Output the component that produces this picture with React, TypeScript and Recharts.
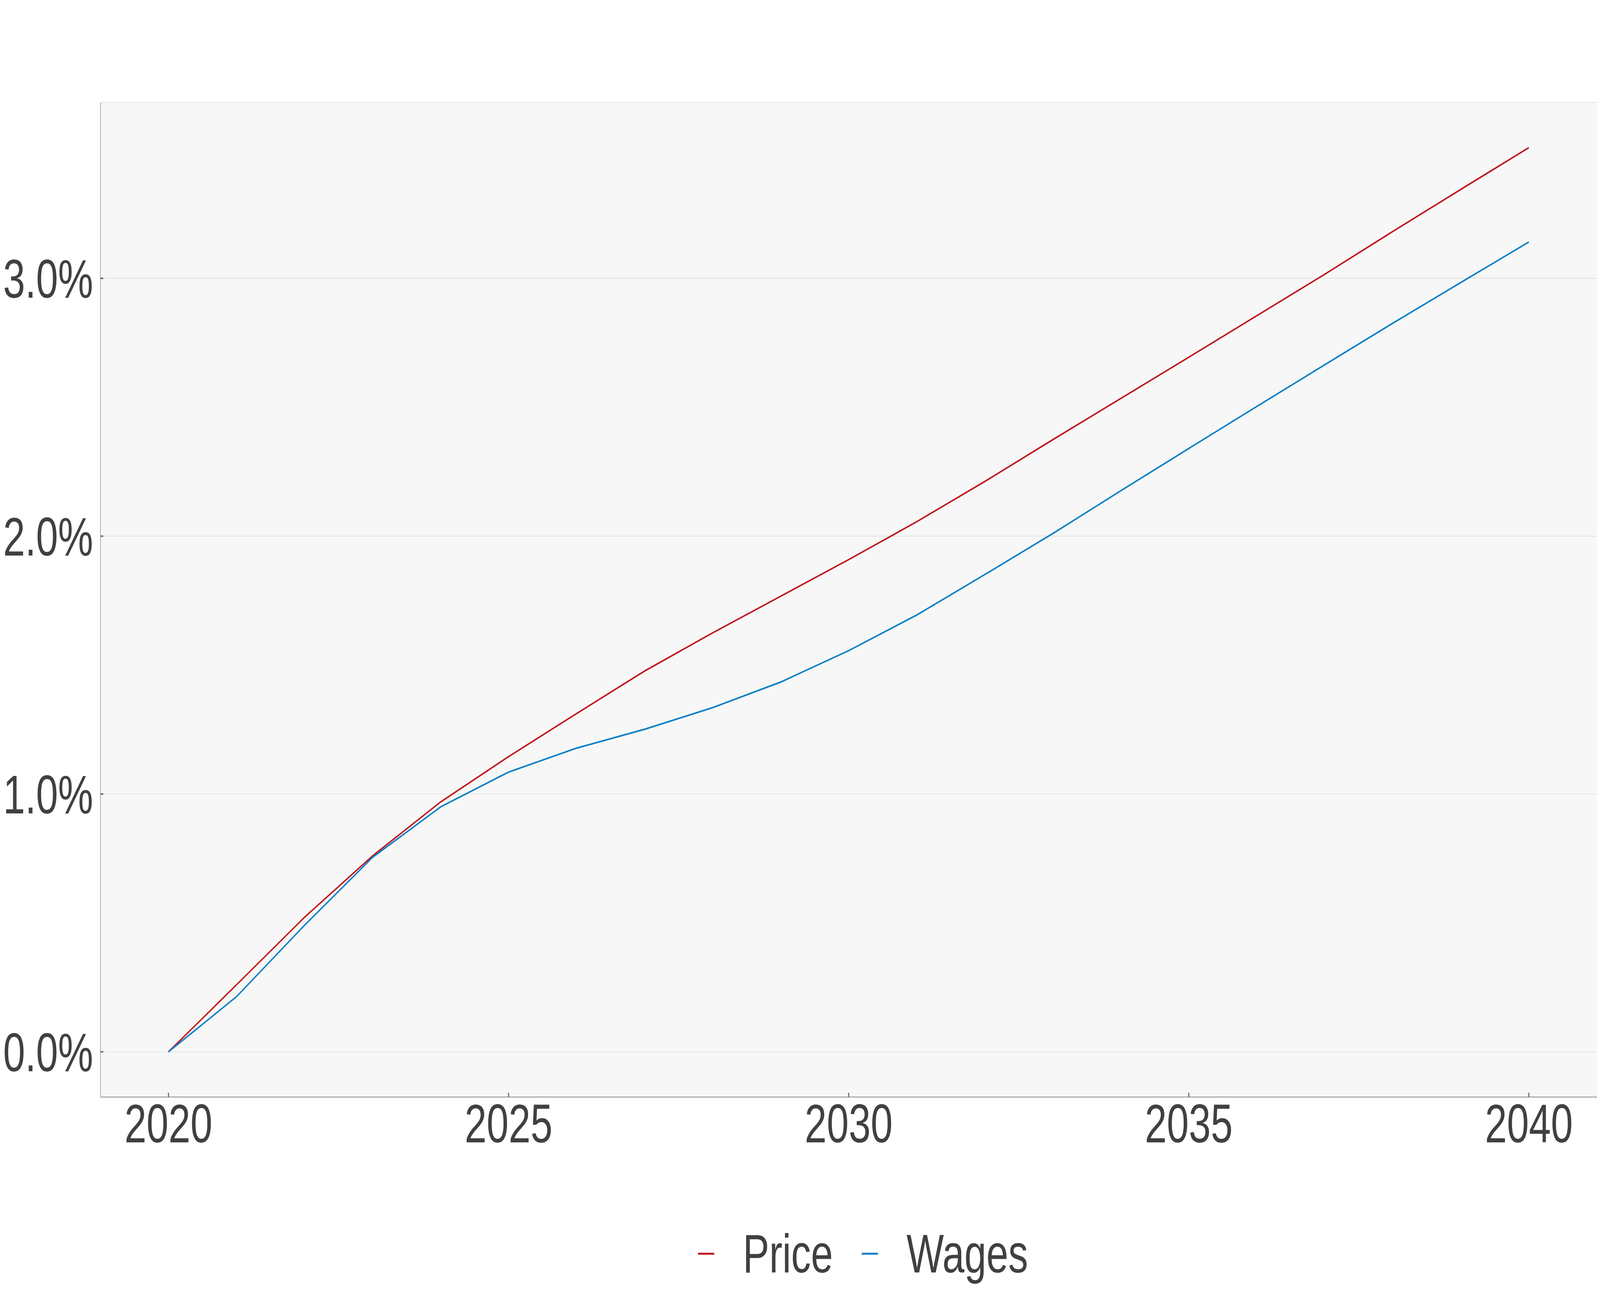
import { CartesianGrid, Legend, Line, LineChart, XAxis, YAxis } from 'recharts';

const years = [
  2020, 2021, 2022, 2023, 2024, 2025, 2026, 2027, 2028, 2029, 2030,
  2031, 2032, 2033, 2034, 2035, 2036, 2037, 2038, 2039, 2040,
];
const price = [
  0, 0.26, 0.522, 0.76, 0.969, 1.145, 1.312, 1.477, 1.625, 1.767, 1.909,
  2.056, 2.212, 2.374, 2.534, 2.694, 2.855, 3.016, 3.182, 3.345, 3.507,
];
const wages = [
  0, 0.214, 0.491, 0.754, 0.95, 1.085, 1.178, 1.251, 1.335, 1.434, 1.556,
  1.694, 1.851, 2.01, 2.176, 2.34, 2.503, 2.665, 2.826, 2.984, 3.141,
];
const xTicks = [2020, 2025, 2030, 2035, 2040];
const yTicks = [0, 1, 2, 3];
const seriesNames = ['Price', 'Wages'];
const seriesColors = ['#c0171c', '#0a80c6'];

const data = years.map((year, i) => ({ year, price: price[i], wages: wages[i] }));

const W = 5669;
const H = 3307;
const FONT = '"Liberation Sans", Arial, Helvetica, sans-serif';
const TEXT = '#404040';

function LegendContent() {
  return (
    <div style={{ display: 'flex', alignItems: 'center', height: 160, fontFamily: FONT }}>
      {seriesNames.map((name, i) => (
        <div key={name} style={{ display: 'flex', alignItems: 'center', marginRight: i === 0 ? 102 : 0 }}>
          <svg width={58} height={10} style={{ marginRight: 101 }}>
            <line x1={0} y1={5} x2={58} y2={5} stroke={seriesColors[i]} strokeWidth={5} />
          </svg>
          <span style={{ fontSize: 140, lineHeight: 1, color: TEXT }}>{name}</span>
        </div>
      ))}
    </div>
  );
}

export default function App() {
  // the browser caps the viewport width, so fit the fixed-size chart into it
  const sx = Math.min(1, window.innerWidth / W);
  const sy = Math.min(1, window.innerHeight / H);

  return (
    <div
      style={{
        position: 'absolute',
        left: 0,
        top: 0,
        width: W * sx,
        height: H * sy,
        overflow: 'hidden',
        background: '#fff',
      }}
    >
      <div style={{ width: W, height: H, transform: `scale(${sx}, ${sy})`, transformOrigin: '0 0' }}>
        <LineChart
          width={W}
          height={H}
          data={data}
          margin={{ top: 262, right: 11, bottom: 349, left: 0 }}
          style={{ fontFamily: FONT }}
        >
          <CartesianGrid vertical={false} fill="#f7f7f7" stroke="#dfdfdf" strokeWidth={1.6} />
          <XAxis
            dataKey="year"
            type="number"
            domain={[2019, 2041]}
            ticks={xTicks}
            allowDataOverflow
            height={150}
            tickSize={-11}
            tickMargin={28}
            axisLine={{ stroke: '#6e6e6e', strokeWidth: 1.5 }}
            tickLine={{ stroke: '#6e6e6e', strokeWidth: 4 }}
            tick={{ fontSize: 140, fill: TEXT, fontFamily: FONT }}
          />
          <YAxis
            type="number"
            domain={[-0.1754, 3.6825]}
            ticks={yTicks}
            allowDataOverflow
            width={356}
            tickSize={-10}
            tickMargin={36}
            tickFormatter={(v: number) => `${v.toFixed(1)}%`}
            axisLine={{ stroke: '#6e6e6e', strokeWidth: 1.5 }}
            tickLine={{ stroke: '#6e6e6e', strokeWidth: 4 }}
            tick={{ fontSize: 140, fill: TEXT, fontFamily: FONT }}
          />
          <Legend
            layout="horizontal"
            verticalAlign="middle"
            align="center"
            content={<LegendContent />}
            wrapperStyle={{ left: 2473, top: 3129, width: 1400, height: 160 }}
          />
          <Line
            type="linear"
            dataKey="price"
            name="Price"
            stroke={seriesColors[0]}
            strokeWidth={4.2}
            dot={false}
            isAnimationActive={false}
          />
          <Line
            type="linear"
            dataKey="wages"
            name="Wages"
            stroke={seriesColors[1]}
            strokeWidth={4.2}
            dot={false}
            isAnimationActive={false}
          />
        </LineChart>
      </div>
    </div>
  );
}
